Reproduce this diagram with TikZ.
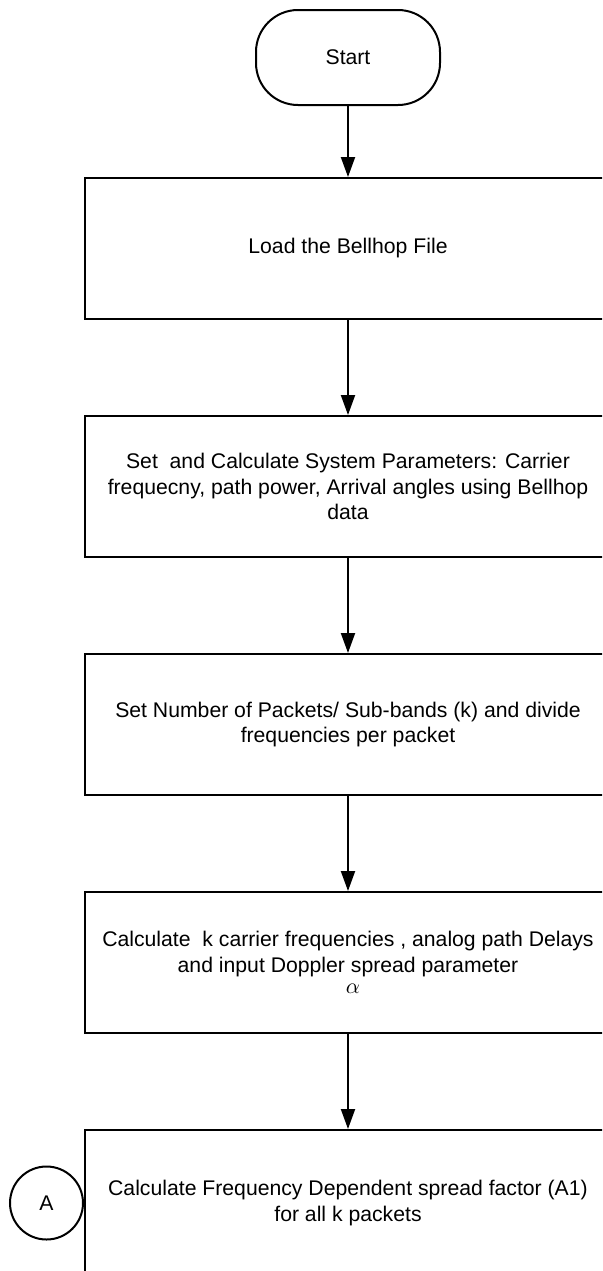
\documentclass[tikz,border=0pt]{standalone}
\usepackage{fontspec}
\setmainfont{Liberation Sans}
\usetikzlibrary{arrows.meta,positioning}
\newcommand{\flowfont}{\fontsize{10.6pt}{12.6pt}\selectfont}

\begin{document}
\begin{tikzpicture}[
  term/.style={draw, line width=1pt, rounded corners=21pt, minimum width=92pt, minimum height=47.5pt, inner sep=0pt, font=\flowfont},
  box/.style={draw, line width=1pt, align=center, minimum width=263pt, minimum height=70.5pt, inner sep=2pt, font=\flowfont},
  con/.style={draw, circle, line width=1pt, minimum size=36.5pt, inner sep=0pt, font=\flowfont},
  arr/.style={-{Triangle[length=10pt,width=7pt]}, line width=1pt}]
\useasboundingbox (0,0) rectangle (301pt,-635.5pt);
\clip (0,0) rectangle (301pt,-635.5pt);
\node[term] (start) at (174pt,-28.75pt) {Start};
\node[box, below=35.5pt of start] (load) {Load the Bellhop File};
\node[box, below=47.5pt of load] (param) {Set\ \ and Calculate System Parameters: Carrier\\frequecny, path power, Arrival angles using Bellhop\\data};
\node[box, below=47.5pt of param] (pack) {Set Number of Packets/ Sub-bands (k) and divide\\frequencies per packet};
\node[box, below=47.5pt of pack] (freq) {Calculate\ \ k carrier frequencies , analog path Delays\\and input Doppler spread parameter\\[-2pt]\hspace*{5pt}$\alpha$};
\node[box, minimum height=73pt, below=47.5pt of freq] (fact) {Calculate Frequency Dependent spread factor (A1)\\for all k packets};
\node[con, left=0pt of fact] (conA) {A};
\draw[arr] (start) -- (load);
\draw[arr] (load) -- (param);
\draw[arr] (param) -- (pack);
\draw[arr] (pack) -- (freq);
\draw[arr] (freq) -- (fact);
\end{tikzpicture}
\end{document}
